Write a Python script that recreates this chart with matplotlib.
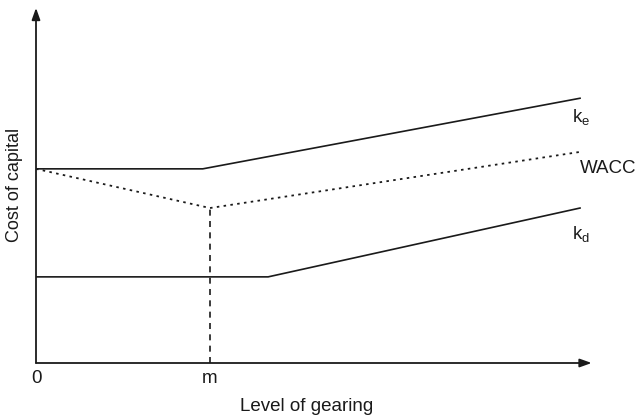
import matplotlib
matplotlib.use("Agg")
import matplotlib.pyplot as plt

plt.rcParams['font.family'] = ['Liberation Sans', 'DejaVu Sans']

# gearing axis runs 0..100, cost of capital axis 0..100 (arbitrary units)
m = 31.4
ke_x = [0, 30.1, 98.2]
ke_y = [55.0, 55.0, 75.0]
wacc_x = [0, m, 98.2]
wacc_y = [55.0, 43.9, 59.8]
kd_x = [0, 41.9, 98.2]
kd_y = [24.4, 24.4, 43.9]
tick_pos = [0, m]
tick_lab = ['0', 'm']

INK = "#1a1a1a"

fig = plt.figure(figsize=(6.38, 4.19), dpi=100)
ax = fig.add_axes([36 / 638, 56 / 419, 554 / 638, 353 / 419])
ax.set_xlim(0, 100)
ax.set_ylim(0, 100)
for s in ax.spines.values():
    s.set_visible(False)

# axes with arrow heads
arrow = dict(arrowstyle="-|>,head_length=0.7,head_width=0.25",
             color=INK, lw=1.3, shrinkA=0, shrinkB=0)
ax.annotate("", xy=(100.3, 0), xytext=(0, 0), annotation_clip=False, arrowprops=arrow)
ax.annotate("", xy=(0, 100.6), xytext=(0, 0), annotation_clip=False, arrowprops=arrow)

ax.plot(ke_x, ke_y, color=INK, lw=1.2)
ax.plot(wacc_x, wacc_y, color=INK, lw=1.3, ls=(0, (1.4, 2.4)))
ax.plot(kd_x, kd_y, color=INK, lw=1.2)
ax.plot([m, m], [0, wacc_y[1]], color=INK, lw=1.2, ls=(0, (3.6, 3.2)))

ax.text(96.7, 69.5, r"k$_\mathregular{e}$", fontsize=13.5, ha="left", va="center", color=INK)
ax.text(98.2, 55.2, "WACC", fontsize=13.5, ha="left", va="center", color=INK)
ax.text(96.7, 36.2, r"k$_\mathregular{d}$", fontsize=13.5, ha="left", va="center", color=INK)

ax.set_xticks(tick_pos, tick_lab, fontsize=13.5, color=INK)
ax.tick_params(axis="x", length=0, pad=5)
ax.set_yticks([])

fig.text(307 / 638, 1 - 406 / 419, "Level of gearing", fontsize=13.5,
         ha="center", va="center", color=INK)
fig.text(15 / 638, 1 - 185 / 419, "Cost of capital", fontsize=13,
         rotation=90, ha="center", va="center", color=INK)

fig.savefig("out.png", dpi=100, facecolor="white")
